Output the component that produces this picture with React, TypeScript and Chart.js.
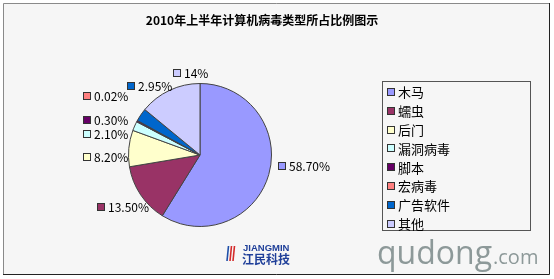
import React, { useEffect, useRef } from "react";
import { Chart, registerables } from "chart.js";

Chart.register(...registerables);

const TITLE = "2010年上半年计算机病毒类型所占比例图示";
const categories = ["木马", "蠕虫", "后门", "漏洞病毒", "脚本", "宏病毒", "广告软件", "其他"];
const shares = [58.7, 13.5, 8.2, 2.1, 0.3, 0.02, 2.95, 14];
const shareLabels = ["58.70%", "13.50%", "8.20%", "2.10%", "0.30%", "0.02%", "2.95%", "14%"];
const colors = ["#9999ff", "#993366", "#ffffcc", "#ccffff", "#660066", "#ff8080", "#0066cc", "#ccccff"];
// label anchor offsets from the pie centre (marker left edge, vertical centre)
const labelOffsets: [number, number][] = [
  [78, 11], [-103, 52], [-117, 2], [-117, -21], [-117, -35], [-117, -59], [-73, -69], [-27, -82],
];

const CJK = '"Noto Sans CJK SC", "Noto Sans", sans-serif';

const framePlugin = {
  id: "frame",
  beforeDraw(chart: any) {
    const ctx = chart.ctx as CanvasRenderingContext2D;
    ctx.save();
    ctx.fillStyle = "#ffffff";
    ctx.fillRect(0, 0, chart.width, chart.height);
    ctx.fillStyle = "#f6f6f6";
    ctx.fillRect(3, 3, 546, 271);
    ctx.lineWidth = 1;
    ctx.strokeStyle = "#8a8a8a";
    ctx.beginPath();
    ctx.moveTo(3.5, 274);
    ctx.lineTo(3.5, 3.5);
    ctx.lineTo(549, 3.5);
    ctx.stroke();
    ctx.strokeStyle = "#222222";
    ctx.beginPath();
    ctx.moveTo(549.5, 3);
    ctx.lineTo(549.5, 274.5);
    ctx.lineTo(3, 274.5);
    ctx.stroke();
    // title
    ctx.fillStyle = "#000";
    ctx.font = `bold 12px ${CJK}`;
    ctx.textAlign = "center";
    ctx.textBaseline = "middle";
    ctx.fillText(TITLE, 262, 20);
    // legend box
    ctx.strokeStyle = "#555";
    ctx.strokeRect(382.5, 81.5, 148, 149);
    ctx.textAlign = "left";
    ctx.font = `13px ${CJK}`;
    categories.forEach((c, i) => {
      const y = 92 + i * 18.8;
      ctx.fillStyle = colors[i];
      ctx.fillRect(387, Math.round(y - 4), 7, 7);
      ctx.strokeStyle = "#333";
      ctx.strokeRect(387.5, Math.round(y - 4) + 0.5, 7, 7);
      ctx.fillStyle = "#000";
      ctx.fillText(c, 398, y + 0.5);
    });
    // logo
    const strokes: [number, string][] = [[227, "#1f4fa8"], [230, "#d42a2a"], [233, "#d42a2a"]];
    ctx.lineWidth = 1.6;
    strokes.forEach(([x, col]) => {
      ctx.strokeStyle = col;
      ctx.beginPath();
      ctx.moveTo(x + 1.5, 246);
      ctx.lineTo(x, 261);
      ctx.stroke();
    });
    ctx.fillStyle = "#1f3f99";
    ctx.font = 'bold 9.5px "Liberation Sans", Arial, sans-serif';
    ctx.fillText("JIANGMIN", 243, 248);
    ctx.font = `bold 12px ${CJK}`;
    ctx.fillText("江民科技", 242, 259);
    // watermark
    ctx.fillStyle = "#8d9999";
    ctx.textBaseline = "alphabetic";
    ctx.font = '32px "Open Sans", "DejaVu Sans", sans-serif';
    ctx.fillText("qudong", 377, 264);
    const w = ctx.measureText("qudong").width;
    ctx.font = '20px "Open Sans", "DejaVu Sans", sans-serif';
    ctx.fillText(".com", 377 + w + 1, 264);
    ctx.restore();
  },
};

const labelPlugin = {
  id: "pieLabels",
  afterDatasetsDraw(chart: any) {
    const ctx = chart.ctx as CanvasRenderingContext2D;
    const meta = chart.getDatasetMeta(0);
    const arc0 = meta.data[0];
    if (!arc0) return;
    const cx = arc0.x;
    const cy = arc0.y;
    ctx.save();
    ctx.font = `12px ${CJK}`;
    ctx.textAlign = "left";
    ctx.textBaseline = "middle";
    shareLabels.forEach((t, i) => {
      const [dx, dy] = labelOffsets[i];
      const x = Math.round(cx + dx);
      const y = Math.round(cy + dy);
      ctx.fillStyle = colors[i];
      ctx.fillRect(x, y - 4, 7, 7);
      ctx.strokeStyle = "#333";
      ctx.lineWidth = 1;
      ctx.strokeRect(x + 0.5, y - 3.5, 7, 7);
      ctx.fillStyle = "#000";
      ctx.fillText(t, x + 11, y + 0.5);
    });
    ctx.restore();
  },
};

export default function App() {
  const ref = useRef<HTMLCanvasElement>(null);
  useEffect(() => {
    document.body.style.margin = "0";
    const chart = new Chart(ref.current!, {
      type: "pie",
      data: {
        labels: categories,
        datasets: [
          {
            data: shares,
            backgroundColor: colors,
            borderColor: "#444",
            borderWidth: 1,
          },
        ],
      },
      options: {
        responsive: false,
        animation: false,
        events: [],
        layout: { padding: { left: 128, right: 282, top: 83, bottom: 52 } },
        plugins: {
          legend: { display: false },
          title: { display: false },
          tooltip: { enabled: false },
        },
      },
      plugins: [framePlugin, labelPlugin],
    });
    return () => chart.destroy();
  }, []);
  return (
    <div style={{ width: 554, height: 279 }}>
      <canvas ref={ref} width={554} height={279} style={{ display: "block" }} />
    </div>
  );
}
